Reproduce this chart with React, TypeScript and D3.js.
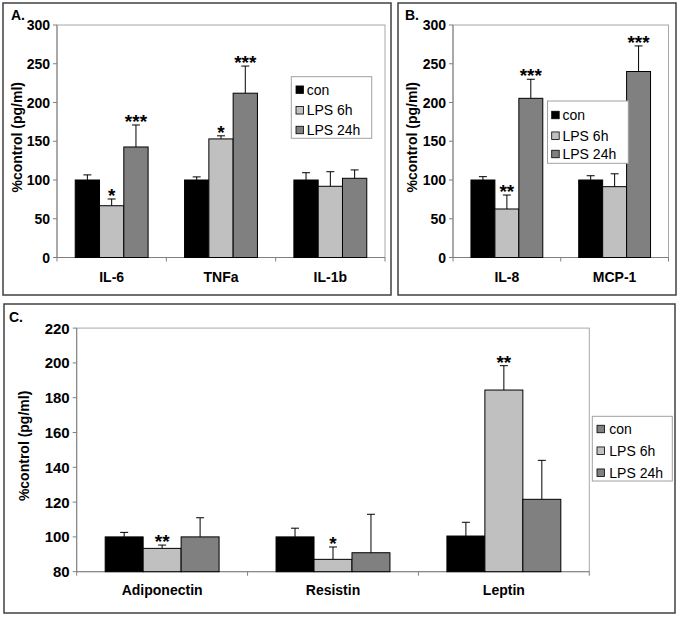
import React from "react";
import * as d3 from "d3";

const seriesNames = ["con", "LPS 6h", "LPS 24h"];
const seriesColors = ["#000000", "#c0c0c0", "#808080"];
const legendColorsC = ["#808080", "#c0c0c0", "#808080"];

const catsA = ["IL-6", "TNFa", "IL-1b"];
const valsA = [
  [100, 100, 100],
  [66.8, 153, 91.9],
  [142.6, 212, 102.2],
];
const errA = [
  [106.6, 104, 109.4],
  [75.5, 157, 110.7],
  [171, 247, 113],
];
const starsA = [
  ["", "", ""],
  ["*", "*", ""],
  ["***", "***", ""],
];

const catsB = ["IL-8", "MCP-1"];
const valsB = [
  [100, 100],
  [62.6, 91.4],
  [205.4, 240],
];
const errB = [
  [104.3, 105.5],
  [80.6, 108],
  [230, 273],
];
const starsB = [
  ["", ""],
  ["**", ""],
  ["***", "***"],
];

const catsC = ["Adiponectin", "Resistin", "Leptin"];
const valsC = [
  [100, 100, 100.5],
  [93.4, 87.1, 184.4],
  [100, 90.9, 121.6],
];
const errC = [
  [102.6, 105, 108.4],
  [95.3, 94.2, 198.4],
  [111, 113, 144],
];
const starsC = [
  ["", "", ""],
  ["**", "*", "**"],
  ["", "", ""],
];

const ticksAB = [0, 50, 100, 150, 200, 250, 300];
const ticksC = [80, 100, 120, 140, 160, 180, 200, 220];

const FONT = "'Liberation Sans', Arial, sans-serif";

type PanelProps = {
  label: string;
  box: { x: number; y: number; w: number; h: number };
  plot: { x0: number; x1: number; y0: number; y1: number };
  domain: [number, number];
  ticks: number[];
  cats: string[];
  vals: number[][];
  errs: number[][];
  stars: string[][];
  legend: { x: number; y: number; w: number; h: number; rows: number[]; sw: number; tx: number };
  legendColors: string[];
  titleX: number;
  tickFont: number;
  catY: number;
  labelPos: [number, number];
};

function Panel(p: PanelProps) {
  const y = d3.scaleLinear().domain(p.domain).range([p.plot.y1, p.plot.y0]);
  const x0 = d3.scaleBand().domain(p.cats).range([p.plot.x0, p.plot.x1]).padding(0);
  const bw = x0.bandwidth();
  const x1 = d3
    .scaleBand()
    .domain(seriesNames)
    .range([bw / 6, (bw * 5) / 6])
    .padding(0);
  const sw = x1.bandwidth();
  const midY = (p.plot.y0 + p.plot.y1) / 2 - 4;
  return (
    <g>
      <rect x={p.box.x} y={p.box.y} width={p.box.w} height={p.box.h} fill="white" stroke="#404040" strokeWidth={1.5} />
      <text x={p.labelPos[0]} y={p.labelPos[1]} fontFamily={FONT} fontWeight="bold" fontSize={14}>
        {p.label}
      </text>
      <rect
        x={p.plot.x0}
        y={p.plot.y0}
        width={p.plot.x1 - p.plot.x0}
        height={p.plot.y1 - p.plot.y0}
        fill="white"
        stroke="#a8a8a8"
        strokeWidth={1}
      />
      <line x1={p.plot.x0} x2={p.plot.x0} y1={p.plot.y0} y2={p.plot.y1} stroke="#808080" />
      {p.ticks.map((t) => (
        <g key={t}>
          <line x1={p.plot.x0 - 4} x2={p.plot.x0} y1={y(t)} y2={y(t)} stroke="#808080" />
          <text
            x={p.plot.x0 - 7}
            y={y(t)}
            dy="0.36em"
            textAnchor="end"
            fontFamily={FONT}
            fontWeight="bold"
            fontSize={p.tickFont}
          >
            {t}
          </text>
        </g>
      ))}
      <line x1={p.plot.x0} x2={p.plot.x1} y1={p.plot.y1} y2={p.plot.y1} stroke="#808080" />
      {p.cats.map((c) => (
        <line
          key={"xt" + c}
          x1={x0(c) as number}
          x2={x0(c) as number}
          y1={p.plot.y1}
          y2={p.plot.y1 + 4}
          stroke="#808080"
        />
      ))}
      <line x1={p.plot.x1} x2={p.plot.x1} y1={p.plot.y1} y2={p.plot.y1 + 4} stroke="#808080" />
      {p.cats.map((c) => (
        <text
          key={"cl" + c}
          x={(x0(c) as number) + bw / 2}
          y={p.catY}
          textAnchor="middle"
          fontFamily={FONT}
          fontWeight="bold"
          fontSize={14}
        >
          {c}
        </text>
      ))}
      {seriesNames.map((s, si) =>
        p.cats.map((c, ci) => {
          const bx = (x0(c) as number) + (x1(s) as number);
          const v = p.vals[si][ci];
          const e = p.errs[si][ci];
          const cx = bx + sw / 2;
          return (
            <g key={s + c}>
              <line x1={cx} x2={cx} y1={y(v)} y2={y(e)} stroke="#000" strokeWidth={1} />
              <line x1={cx - 4} x2={cx + 4} y1={y(e)} y2={y(e)} stroke="#000" strokeWidth={1} />
              <rect
                x={bx}
                y={y(v)}
                width={sw}
                height={y(p.domain[0]) - y(v)}
                fill={seriesColors[si]}
                stroke="#000"
                strokeWidth={1}
              />
              {p.stars[si][ci] && (
                <text
                  x={cx}
                  y={y(e) + 3}
                  textAnchor="middle"
                  fontFamily={FONT}
                  fontWeight="bold"
                  fontSize={19}
                >
                  {p.stars[si][ci]}
                </text>
              )}
            </g>
          );
        })
      )}
      <text
        transform={`translate(${p.titleX},${midY}) rotate(-90)`}
        textAnchor="middle"
        dy="0.36em"
        fontFamily={FONT}
        fontWeight="bold"
        fontSize={14}
      >
        %control (pg/ml)
      </text>
      <rect x={p.legend.x} y={p.legend.y} width={p.legend.w} height={p.legend.h} fill="white" stroke="#a0a0a0" />
      {seriesNames.map((s, i) => (
        <g key={"lg" + s}>
          <rect
            x={p.legend.sw}
            y={p.legend.rows[i] - 3.75}
            width={7.5}
            height={7.5}
            fill={p.legendColors[i]}
            stroke="#000"
            strokeWidth={0.8}
          />
          <text x={p.legend.tx} y={p.legend.rows[i]} dy="0.36em" fontFamily={FONT} fontSize={14}>
            {s}
          </text>
        </g>
      ))}
    </g>
  );
}

export default function App() {
  return (
    <svg width={682} height={618} style={{ position: "absolute", left: 0, top: 0, background: "white" }}>
      <rect x={0} y={0} width={682} height={618} fill="white" />
      <Panel
        label="A."
        box={{ x: 3, y: 3, w: 388, h: 292 }}
        plot={{ x0: 57, x1: 385, y0: 25, y1: 257.5 }}
        domain={[0, 300]}
        ticks={ticksAB}
        cats={catsA}
        vals={valsA}
        errs={errA}
        stars={starsA}
        legend={{ x: 291.3, y: 76.7, w: 80.4, h: 61.6, rows: [89.7, 110.3, 130], sw: 296, tx: 306.7 }}
        legendColors={seriesColors}
        titleX={17}
        tickFont={14}
        catY={281.5}
        labelPos={[11, 20]}
      />
      <Panel
        label="B."
        box={{ x: 398, y: 3, w: 278, h: 292 }}
        plot={{ x0: 453, x1: 668.5, y0: 25, y1: 257.5 }}
        domain={[0, 300]}
        ticks={ticksAB}
        cats={catsB}
        vals={valsB}
        errs={errB}
        stars={starsB}
        legend={{ x: 547.5, y: 101, w: 80.8, h: 62.3, rows: [115, 135.7, 154], sw: 551.7, tx: 562.5 }}
        legendColors={seriesColors}
        titleX={412}
        tickFont={14}
        catY={281.5}
        labelPos={[405, 20]}
      />
      <Panel
        label="C."
        box={{ x: 4, y: 304, w: 671, h: 309 }}
        plot={{ x0: 76.7, x1: 589.3, y0: 328.1, y1: 571.7 }}
        domain={[80, 220]}
        ticks={ticksC}
        cats={catsC}
        vals={valsC}
        errs={errC}
        stars={starsC}
        legend={{ x: 592.3, y: 416.3, w: 80, h: 64.7, rows: [429, 450.7, 472.7], sw: 597, tx: 609.3 }}
        legendColors={legendColorsC}
        titleX={23.5}
        tickFont={15}
        catY={595}
        labelPos={[9, 322]}
      />
    </svg>
  );
}
